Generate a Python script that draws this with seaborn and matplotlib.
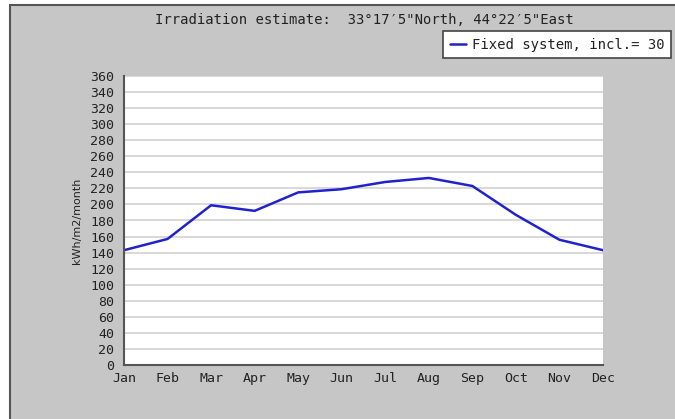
import matplotlib
matplotlib.use("Agg")
import matplotlib.pyplot as plt
import matplotlib.patches as mpatches
import seaborn as sns
import pandas as pd

# monthly irradiation, kWh/m2/month
months = ['Jan', 'Feb', 'Mar', 'Apr', 'May', 'Jun', 'Jul', 'Aug', 'Sep', 'Oct', 'Nov', 'Dec']
irradiation = [143, 157, 199, 192, 215, 219, 228, 233, 223, 187, 156, 143]
yticks = list(range(0, 361, 20))

title = 'Irradiation estimate:  33°17′5"North, 44°22′5"East'
series_label = 'Fixed system, incl.= 30'

df = pd.DataFrame({'month': range(len(months)), 'irr': irradiation})

sns.set_style('white')
plt.rcParams['font.family'] = ['DejaVu Sans Mono', 'DejaVu Sans']

fig = plt.figure(figsize=(6.75, 4.19), dpi=100)
fig.patch.set_facecolor('white')

# gray panel with dark border on the left and top
panel = mpatches.Rectangle((10 / 675, -0.1), 1.2, 1.1 - 5 / 419, transform=fig.transFigure,
                           facecolor='#c6c6c6', edgecolor='#555555', linewidth=1.5, zorder=-5)
fig.patches.append(panel)

ax = fig.add_axes([124 / 675, 1 - 365 / 419, (603 - 124) / 675, (365 - 76) / 419])
ax.set_zorder(2)
ax.set_facecolor('white')

sns.lineplot(data=df, x='month', y='irr', ax=ax, color='#2222cc', linewidth=1.8,
             label=series_label)

ax.set_xlim(0, 11)
ax.set_ylim(0, 360)
ax.set_xticks(range(len(months)))
ax.set_xticklabels(months)
ax.set_yticks(yticks)
ax.yaxis.grid(True, color='#d6d6d6', linewidth=1.3)
ax.set_axisbelow(True)

for s in ['top', 'right']:
    ax.spines[s].set_visible(False)
for s in ['left', 'bottom']:
    ax.spines[s].set_color('#555555')
    ax.spines[s].set_linewidth(1.5)

ax.tick_params(axis='both', direction='in', length=5, width=1.2, color='#555555',
               labelsize=9.5, labelcolor='#222222')
ax.tick_params(axis='y', pad=7)
ax.tick_params(axis='x', pad=5)

ax.set_xlabel('')
ax.set_ylabel('kWh/m2/month', fontsize=8, family='DejaVu Sans', color='#222222')
ax.yaxis.set_label_coords(-0.088, 0.5)

fig.text(364 / 675, 1 - 20 / 419, title, ha='center', va='center', fontsize=10,
         color='#222222', zorder=3)

leg = ax.legend(loc='center', bbox_to_anchor=(557 / 675, 1 - 44.5 / 419),
                bbox_transform=fig.transFigure, frameon=True, fancybox=False,
                edgecolor='#444444', facecolor='white', framealpha=1, fontsize=10,
                handlelength=1.2, handletextpad=0.4, borderpad=0.45, borderaxespad=0)
leg.get_frame().set_linewidth(1.2)
for t in leg.get_texts():
    t.set_color('#222222')

fig.savefig('out.png', dpi=100)
